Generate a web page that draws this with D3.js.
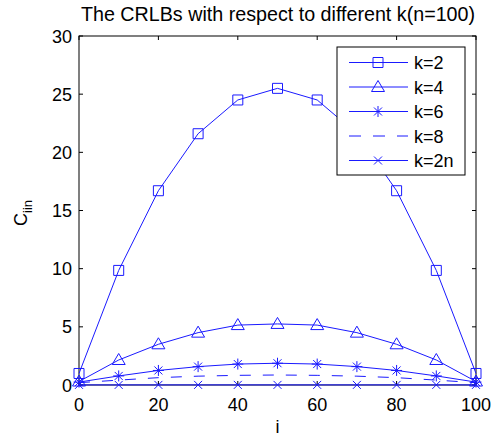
<!DOCTYPE html>
<html>
<head>
<meta charset="utf-8">
<script src="https://cdn.jsdelivr.net/npm/d3@7"></script>
<style>
  body { margin: 0; background: #fff; }
  text { font-family: "Liberation Sans", Arial, sans-serif; fill: #000; }
</style>
</head>
<body>
<div id="chart"></div>
<script>
// Data
var iValues = [0, 10, 20, 30, 40, 50, 60, 70, 80, 90, 100]
var k2  = [0.99, 9.85, 16.7, 21.6, 24.5, 25.5, 24.5, 21.6, 16.7, 9.85, 0.99]
var k4  = [0.3, 2.15, 3.5, 4.5, 5.15, 5.25, 5.15, 4.5, 3.5, 2.15, 0.3]
var k6  = [0.25, 0.78, 1.25, 1.58, 1.8, 1.87, 1.8, 1.58, 1.25, 0.78, 0.25]
var k8  = [0.2, 0.42, 0.63, 0.76, 0.83, 0.86, 0.83, 0.76, 0.63, 0.42, 0.2]
var k2n = [0.01, 0.01, 0.01, 0.01, 0.01, 0.01, 0.01, 0.01, 0.01, 0.01, 0.01]
var seriesNames = ['k=2', 'k=4', 'k=6', 'k=8', 'k=2n']
var seriesValues = [k2, k4, k6, k8, k2n]
var seriesMarkers = ['square', 'triangle', 'star', 'none', 'x']
var xTicks = [0, 20, 40, 60, 80, 100]
var yTicks = [0, 5, 10, 15, 20, 25, 30]

var svgWidth = 497
var svgHeight = 441
var margin = { top: 36, right: 21, bottom: 56, left: 79 }
var width = svgWidth - margin.left - margin.right
var height = svgHeight - margin.top - margin.bottom
var lineColor = '#1a1aff'
var fontSize = '18px'

var svg = d3.select('#chart').append('svg')
    .attr('width', svgWidth)
    .attr('height', svgHeight)

var chartGroup = svg.append('g')
    .attr('transform', `translate(${margin.left}, ${margin.top})`)

var xScale = d3.scaleLinear().domain([0, 100]).range([0, width])
var yScale = d3.scaleLinear().domain([0, 30]).range([height, 0])

// marker shapes
function markerPath(type) {
  if (type === 'square') return 'M-5,-5H5V5H-5Z'
  if (type === 'triangle') return 'M0,-6.5L6.5,4.5H-6.5Z'
  if (type === 'star') return 'M0,-5.5V5.5M-5.5,0H5.5M-4,-4L4,4M-4,4L4,-4'
  if (type === 'x') return 'M-4,-4L4,4M-4,4L4,-4'
  return ''
}

// axis box + ticks (inward, MATLAB style)
var axisGroup = chartGroup.append('g')
axisGroup.append('rect')
    .attr('width', width).attr('height', height)
    .attr('fill', 'none').attr('stroke', '#000').attr('stroke-width', 1)

xTicks.forEach(t => {
  axisGroup.append('line')
      .attr('x1', xScale(t)).attr('x2', xScale(t))
      .attr('y1', height).attr('y2', height - 4)
      .attr('stroke', '#000')
  axisGroup.append('line')
      .attr('x1', xScale(t)).attr('x2', xScale(t))
      .attr('y1', 0).attr('y2', 4)
      .attr('stroke', '#000')
  chartGroup.append('text')
      .attr('x', xScale(t)).attr('y', height + 26)
      .attr('text-anchor', 'middle')
      .style('font-size', fontSize)
      .text(t)
})

yTicks.forEach(t => {
  axisGroup.append('line')
      .attr('x1', 0).attr('x2', 4)
      .attr('y1', yScale(t)).attr('y2', yScale(t))
      .attr('stroke', '#000')
  axisGroup.append('line')
      .attr('x1', width).attr('x2', width - 4)
      .attr('y1', yScale(t)).attr('y2', yScale(t))
      .attr('stroke', '#000')
  chartGroup.append('text')
      .attr('x', -7).attr('y', yScale(t) + 6.5)
      .attr('text-anchor', 'end')
      .style('font-size', fontSize)
      .text(t)
})

// lines + markers
var line = d3.line()
    .x((d, j) => xScale(iValues[j]))
    .y(d => yScale(d))

seriesValues.forEach((vals, s) => {
  chartGroup.append('path')
      .datum(vals)
      .attr('d', line)
      .attr('fill', 'none')
      .attr('stroke', lineColor)
      .attr('stroke-width', 1)
      .attr('stroke-dasharray', seriesMarkers[s] === 'none' ? '11,12' : null)

  if (seriesMarkers[s] !== 'none') {
    chartGroup.selectAll('.m' + s)
        .data(vals)
        .enter()
        .append('path')
        .attr('class', 'm' + s)
        .attr('transform', (d, j) => `translate(${xScale(iValues[j])}, ${yScale(d)})`)
        .attr('d', markerPath(seriesMarkers[s]))
        .attr('fill', 'none')
        .attr('stroke', lineColor)
        .attr('stroke-width', 1)
  }
})

// legend
var legend = chartGroup.append('g')
    .attr('transform', `translate(${337 - margin.left}, ${47 - margin.top})`)
legend.append('rect')
    .attr('width', 128).attr('height', 128)
    .attr('fill', '#fff').attr('stroke', '#000').attr('stroke-width', 1)

seriesNames.forEach((name, s) => {
  var yy = 15.5 + s * 24.5
  legend.append('line')
      .attr('x1', 12).attr('x2', 71)
      .attr('y1', yy).attr('y2', yy)
      .attr('stroke', lineColor)
      .attr('stroke-dasharray', seriesMarkers[s] === 'none' ? '12,12' : null)
  if (seriesMarkers[s] !== 'none') {
    legend.append('path')
        .attr('transform', `translate(41, ${yy})`)
        .attr('d', markerPath(seriesMarkers[s]))
        .attr('fill', 'none')
        .attr('stroke', lineColor)
  }
  legend.append('text')
      .attr('x', 77).attr('y', yy + 6.5)
      .style('font-size', fontSize)
      .text(name)
})

// title and axis labels
svg.append('text')
    .attr('x', 278).attr('y', 21)
    .attr('text-anchor', 'middle')
    .style('font-size', '19.7px')
    .text('The CRLBs with respect to different k(n=100)')

svg.append('text')
    .attr('x', margin.left + width / 2).attr('y', 433)
    .attr('text-anchor', 'middle')
    .style('font-size', fontSize)
    .text('i')

var yLabel = svg.append('text')
    .attr('transform', 'translate(27, 213) rotate(-90)')
    .attr('text-anchor', 'middle')
    .style('font-size', fontSize)
yLabel.append('tspan').text('C')
yLabel.append('tspan').attr('dy', 5).style('font-size', '13px').text('iin')
</script>
</body>
</html>
